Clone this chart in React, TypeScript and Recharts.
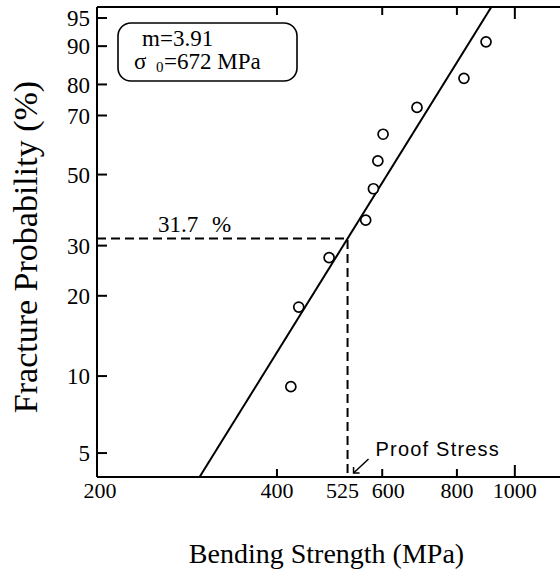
import React from 'react';
import { ScatterChart, Scatter, XAxis, YAxis } from 'recharts';

// measured bending strengths (MPa) and their failure probabilities (%)
const strengthMPa = [422, 435, 489, 563, 580, 590, 602, 686, 822, 895];
const failureProb = [9.1, 18.2, 27.3, 36.4, 45.5, 54.5, 63.6, 72.7, 81.8, 90.9];

const xTicks = [200, 400, 525, 600, 800, 1000];
const xTopTicks = [400, 600, 800, 1000];
const yTickPercents = [5, 10, 20, 30, 50, 70, 80, 90, 95];

// Weibull fit
const weibullM = 3.91;
const sigma0 = 672;
const proofStress = 525;
const proofProb = 31.7;

const X_DOMAIN: [number, number] = [200, 1190];
const Y_DOMAIN: [number, number] = [-3.194, 1.2];

const SERIF = '"Liberation Serif", "Times New Roman", serif';
const SANS = '"Liberation Sans", Arial, sans-serif';

// labels 525 and 600 sit close together, so they are pushed apart a bit
const labelNudge: Record<number, number> = { 200: 3, 525: -5, 600: 6 };

const weibull = (p: number) => Math.log(-Math.log(1 - p / 100));
const fromWeibull = (w: number) => 100 * (1 - Math.exp(-Math.exp(w)));

const points = strengthMPa.map((s, i) => ({ x: s, y: weibull(failureProb[i]) }));
const yTicks = yTickPercents.map(weibull);

const fitLine = Y_DOMAIN.map((w) => ({ x: sigma0 * Math.exp(w / weibullM), y: w }));

const proofW = weibull(proofProb);
const proofGuide = [
  { x: X_DOMAIN[0], y: proofW },
  { x: proofStress, y: proofW },
  { x: proofStress, y: Y_DOMAIN[0] },
];

function BottomTick({ x, y, payload }: any) {
  const v = payload.value;
  const len = v === 1000 ? 12 : 8;
  return (
    <g>
      {v !== 200 && v !== proofStress && (
        <line x1={x} x2={x} y1={y} y2={y - len} stroke="#000" strokeWidth={2} />
      )}
      <text
        x={x + (labelNudge[v] || 0)}
        y={y + 21}
        textAnchor="middle"
        fontFamily={SERIF}
        fontSize={22}
        fill="#000"
      >
        {v}
      </text>
    </g>
  );
}

function TopTick({ x, y, payload }: any) {
  const len = payload.value === 1000 ? 12 : 8;
  return <line x1={x} x2={x} y1={y} y2={y + len} stroke="#000" strokeWidth={2} />;
}

function LeftTick({ x, y, payload }: any) {
  return (
    <g>
      <line x1={x} x2={x + 10} y1={y} y2={y} stroke="#000" strokeWidth={2} />
      <text x={x - 7} y={y} dy="0.35em" textAnchor="end" fontFamily={SERIF} fontSize={23} fill="#000">
        {Math.round(fromWeibull(payload.value))}
      </text>
    </g>
  );
}

const Circle = ({ cx, cy }: any) => (
  <circle cx={cx} cy={cy} r={5} fill="#fff" stroke="#000" strokeWidth={1.7} />
);

const Empty = () => <g />;

const ProbLabel = ({ cx, cy }: any) => (
  <text fontFamily={SERIF} fontSize={23} fill="#000">
    <tspan x={cx + 61} y={cy - 6}>{proofProb}</tspan>
    <tspan x={cx + 115} y={cy - 6}>%</tspan>
  </text>
);

const ProofLabel = ({ cx, cy }: any) => (
  <g>
    <line x1={cx + 21} y1={cy - 18} x2={cx + 6} y2={cy - 4} stroke="#000" strokeWidth={1.5} />
    <polyline
      points={`${cx + 6},${cy - 10} ${cx + 6},${cy - 4} ${cx + 12},${cy - 4}`}
      fill="none"
      stroke="#000"
      strokeWidth={1.5}
    />
    <text x={cx + 28} y={cy - 21} fontFamily={SANS} fontSize={20} letterSpacing={1.2} fill="#000">
      Proof Stress
    </text>
  </g>
);

export default function App() {
  return (
    <div style={{ position: 'absolute', left: 0, top: 0, width: 560, height: 571, background: '#fff' }}>
      <ScatterChart width={560} height={571} margin={{ top: 0, right: 0, bottom: 0, left: 0 }}>
        <XAxis
          xAxisId="b"
          type="number"
          dataKey="x"
          scale="log"
          domain={X_DOMAIN}
          allowDataOverflow
          ticks={xTicks}
          interval={0}
          height={94}
          tickSize={0}
          tickMargin={0}
          tickLine={false}
          axisLine={{ stroke: '#000', strokeWidth: 2 }}
          tick={<BottomTick />}
          label={{
            content: ({ viewBox }: any) => (
              <text
                x={viewBox.x + viewBox.width / 2 - 2}
                y={viewBox.y + viewBox.height - 8}
                textAnchor="middle"
                fontFamily={SERIF}
                fontSize={28}
                fill="#000"
              >
                Bending Strength (MPa)
              </text>
            ),
          }}
        />
        <XAxis
          xAxisId="t"
          orientation="top"
          type="number"
          dataKey="x"
          scale="log"
          domain={X_DOMAIN}
          allowDataOverflow
          ticks={xTopTicks}
          interval={0}
          height={7}
          tickSize={0}
          tickMargin={0}
          tickLine={false}
          axisLine={{ stroke: '#000', strokeWidth: 2 }}
          tick={<TopTick />}
        />
        <YAxis
          type="number"
          dataKey="y"
          domain={Y_DOMAIN}
          allowDataOverflow
          ticks={yTicks}
          interval={0}
          width={97}
          tickSize={0}
          tickMargin={0}
          tickLine={false}
          axisLine={{ stroke: '#000', strokeWidth: 2 }}
          tick={<LeftTick />}
          label={{
            content: ({ viewBox }: any) => {
              const cx = 37;
              const cy = viewBox.y + viewBox.height / 2 + 5;
              return (
                <text
                  x={cx}
                  y={cy}
                  transform={`rotate(-90 ${cx} ${cy})`}
                  textAnchor="middle"
                  fontFamily={SERIF}
                  fontSize={34}
                  fill="#000"
                >
                  Fracture Probability (%)
                </text>
              );
            },
          }}
        />
        <Scatter
          xAxisId="b"
          data={proofGuide}
          fill="none"
          line={{ stroke: '#000', strokeWidth: 2, strokeDasharray: '9 5' }}
          shape={<Empty />}
          isAnimationActive={false}
        />
        <Scatter
          xAxisId="b"
          data={fitLine}
          fill="none"
          line={{ stroke: '#000', strokeWidth: 2 }}
          shape={<Empty />}
          isAnimationActive={false}
        />
        <Scatter xAxisId="b" data={points} shape={<Circle />} isAnimationActive={false} />
        <Scatter
          xAxisId="b"
          data={[{ x: X_DOMAIN[0], y: proofW }]}
          shape={<ProbLabel />}
          isAnimationActive={false}
        />
        <Scatter
          xAxisId="b"
          data={[{ x: proofStress, y: Y_DOMAIN[0] }]}
          shape={<ProofLabel />}
          isAnimationActive={false}
        />
      </ScatterChart>
      <svg
        width={560}
        height={571}
        style={{ position: 'absolute', left: 0, top: 0, pointerEvents: 'none' }}
      >
        <rect x={118} y={23} width={179} height={58} rx={13} fill="#fff" stroke="#000" strokeWidth={1.6} />
        <text fontFamily={SERIF} fontSize={23} fill="#000">
          <tspan x={142} y={46}>m={weibullM}</tspan>
          <tspan x={134} y={69}>σ</tspan>
          <tspan x={156} y={72} fontSize={15}>0</tspan>
          <tspan x={164} y={69}>={sigma0} MPa</tspan>
        </text>
      </svg>
    </div>
  );
}
